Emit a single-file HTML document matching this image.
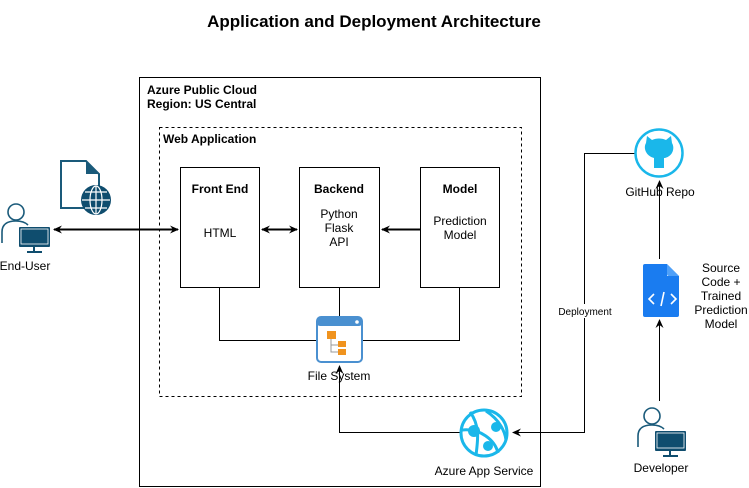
<!DOCTYPE html>
<html><head><meta charset="utf-8"><style>
body{margin:0;background:#fff}
svg{display:block;font-family:"Liberation Sans",Arial,sans-serif}
</style></head><body>
<svg width="749" height="488" viewBox="0 0 749 488" xmlns="http://www.w3.org/2000/svg">
<defs>
<marker id="a" markerWidth="10" markerHeight="10" refX="8" refY="5" orient="auto-start-reverse" markerUnits="userSpaceOnUse"><path d="M0,1 L9,5 L0,9 L3,5z" fill="#000"/></marker>
</defs>
<rect width="749" height="488" fill="#fff"/>
<text x="374" y="27" text-anchor="middle" font-size="17" font-weight="bold">Application and Deployment Architecture</text>

<rect x="139.5" y="77.5" width="401" height="409" fill="none" stroke="#000"/>
<text x="147" y="94" font-size="12" font-weight="bold">Azure Public Cloud</text>
<text x="147" y="108" font-size="12" font-weight="bold">Region: US Central</text>
<rect x="159.5" y="127.5" width="362" height="269" fill="none" stroke="#000" stroke-dasharray="3,3"/>
<text x="163" y="143" font-size="12" font-weight="bold">Web Application</text>

<rect x="180.5" y="167.5" width="79" height="120" fill="#fff" stroke="#000"/>
<text x="220" y="193" text-anchor="middle" font-size="12" font-weight="bold">Front End</text>
<text x="220" y="237" text-anchor="middle" font-size="12">HTML</text>
<rect x="299.5" y="167.5" width="80" height="120" fill="#fff" stroke="#000"/>
<text x="339" y="193" text-anchor="middle" font-size="12" font-weight="bold">Backend</text>
<text x="339" y="218" text-anchor="middle" font-size="12">Python</text>
<text x="339" y="232" text-anchor="middle" font-size="12">Flask</text>
<text x="339" y="246" text-anchor="middle" font-size="12">API</text>
<rect x="420.5" y="167.5" width="79" height="120" fill="#fff" stroke="#000"/>
<text x="460" y="193" text-anchor="middle" font-size="12" font-weight="bold">Model</text>
<text x="460" y="225" text-anchor="middle" font-size="12">Prediction</text>
<text x="460" y="239" text-anchor="middle" font-size="12">Model</text>

<!-- connectors -->
<line x1="54" y1="229.5" x2="178" y2="229.5" stroke="#000" stroke-width="2" marker-start="url(#a)" marker-end="url(#a)"/>
<line x1="262" y1="229.5" x2="297" y2="229.5" stroke="#000" stroke-width="2" marker-start="url(#a)" marker-end="url(#a)"/>
<line x1="420" y1="229.5" x2="382" y2="229.5" stroke="#000" stroke-width="2" marker-end="url(#a)"/>
<path d="M339.5 288 V317" stroke="#000" fill="none"/>
<path d="M219.5 288 V340.5 H317" stroke="#000" fill="none"/>
<path d="M459.5 288 V340.5 H362" stroke="#000" fill="none"/>
<path d="M460 432.5 H339.5 V366" stroke="#000" fill="none" marker-end="url(#a)"/>
<path d="M635 153.5 H584.5 V432.5 H513" stroke="#000" fill="none" marker-end="url(#a)"/>
<rect x="553" y="304" width="64" height="14" fill="#fff"/>
<text x="585" y="315" text-anchor="middle" font-size="10">Deployment</text>
<path d="M659.5 259 V181" stroke="#000" fill="none" marker-end="url(#a)"/>
<path d="M659.5 401 V320" stroke="#000" fill="none" marker-end="url(#a)"/>

<!-- file system icon -->
<rect x="317" y="317" width="45" height="45" rx="4" fill="#fff" stroke="#4a90d0" stroke-width="2"/>
<rect x="317" y="317" width="45" height="9" rx="3" fill="#4a90d0"/>
<circle cx="357" cy="322" r="1.8" fill="#fff"/>
<rect x="327" y="331" width="9" height="8" fill="#f0931e"/>
<path d="M331 339 V352 H338 M331 345 H338" stroke="#999" fill="none"/>
<rect x="338" y="341" width="8" height="6" fill="#f0931e"/>
<rect x="338" y="349" width="8" height="6" fill="#f0931e"/>
<text x="339" y="380" text-anchor="middle" font-size="12">File System</text>

<!-- app service -->
<g stroke="#1ab7ea" fill="none" stroke-width="3">
<circle cx="484" cy="433" r="23"/>
<path d="M470 412 C480 425 478 440 476 455 M462 430 C480 428 495 440 498 453 M486 411 C500 420 505 432 506 440"/>
</g>
<circle cx="474" cy="431" r="6" fill="#1ab7ea"/>
<circle cx="496" cy="427" r="5" fill="#1ab7ea"/>
<circle cx="488" cy="446" r="5" fill="#1ab7ea"/>
<text x="484" y="475" text-anchor="middle" font-size="12">Azure App Service</text>

<!-- github -->
<circle cx="659" cy="153" r="23.5" fill="#fff" stroke="#1ab7ea" stroke-width="2.5"/>
<path d="M646 143 L647 136 L652 140 C656 138 662 138 666 140 L671 136 L672 143 C675 148 673 156 665 158 L664 158 V168 H654 V158 C646 156 643 148 646 143z" fill="#1ab7ea"/>
<text x="660" y="196" text-anchor="middle" font-size="12">GitHub Repo</text>

<!-- code doc -->
<path d="M645 264 H667 L679 276 V315 Q679 317 677 317 H645 Q643 317 643 315 V266 Q643 264 645 264z" fill="#1a7cf0"/>
<path d="M667 264 V276 H679z" fill="#fff"/>
<path d="M667 264 V274 Q667 276 669 276 H679" fill="#4fa0f8"/>
<path d="M654 294 L649 299 L654 304 M671 294 L676 299 L671 304 M664 292 L661 306" stroke="#fff" stroke-width="1.6" fill="none"/>
<g font-size="12" text-anchor="middle">
<text x="721" y="272">Source</text>
<text x="721" y="286">Code +</text>
<text x="721" y="300">Trained</text>
<text x="721" y="314">Prediction</text>
<text x="721" y="328">Model</text>
</g>

<!-- end-user icon -->
<g>
<circle cx="16" cy="212" r="8" fill="#fff" stroke="#1a5a7a" stroke-width="1.6"/>
<path d="M2 243 V232 Q2 221 16 221 Q24 221 28 225" fill="none" stroke="#1a5a7a" stroke-width="1.6"/>
<rect x="19" y="227" width="31" height="20" rx="1" fill="#0f4d6e"/>
<rect x="21" y="229" width="27" height="15" fill="#0f4d6e" stroke="#fff" stroke-width="0.8"/>
<path d="M34 247 V251 M27 252 H42" stroke="#0f4d6e" stroke-width="2"/>
</g>
<text x="25" y="270" text-anchor="middle" font-size="12">End-User</text>

<!-- doc globe -->
<path d="M61 161 H86 L99 174 V208 H61z" fill="#fff" stroke="#1a5a7a" stroke-width="2"/>
<path d="M86 161 V174 H99z" fill="#1a5a7a"/>
<circle cx="96" cy="200" r="15" fill="#0f4d6e"/>
<g stroke="#fff" stroke-width="1.2" fill="none">
<ellipse cx="96" cy="200" rx="6" ry="14"/>
<path d="M96 186 V214 M82 200 H110 M85 192 H107 M85 208 H107"/>
</g>

<!-- developer icon -->
<g>
<circle cx="652" cy="416" r="8" fill="#fff" stroke="#1a5a7a" stroke-width="1.6"/>
<path d="M638 447 V436 Q638 425 652 425 Q660 425 664 429" fill="none" stroke="#1a5a7a" stroke-width="1.6"/>
<rect x="655" y="431" width="31" height="20" rx="1" fill="#0f4d6e"/>
<rect x="657" y="433" width="27" height="15" fill="#0f4d6e" stroke="#fff" stroke-width="0.8"/>
<path d="M670 451 V455 M663 456 H678" stroke="#0f4d6e" stroke-width="2"/>
</g>
<text x="661" y="472" text-anchor="middle" font-size="12">Developer</text>
</svg>
</body></html>
